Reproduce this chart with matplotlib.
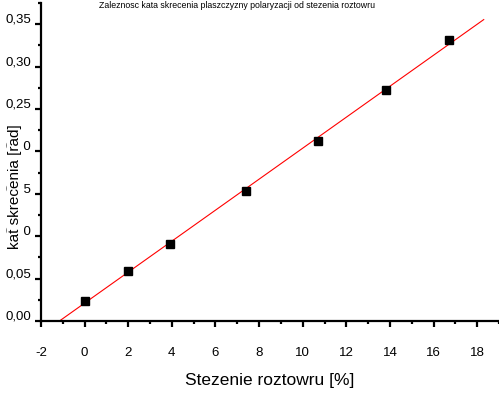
import numpy as np
import matplotlib
matplotlib.use('Agg')
import matplotlib.pyplot as plt
from matplotlib.ticker import MultipleLocator, FuncFormatter
from matplotlib.transforms import ScaledTranslation

# dane pomiarowe
stezenie = [0, 2, 3.9, 7.4, 10.7, 13.8, 16.7]          # [%]
kat = [0.0236, 0.0593, 0.0912, 0.1537, 0.2126, 0.272, 0.331]  # [rad]
x_ticks = [-2, 0, 2, 4, 6, 8, 10, 12, 14, 16, 18]
fit_end = 18.3

title = 'Zaleznosc kata skrecenia plaszczyzny polaryzacji od stezenia roztowru'
xlabel = 'Stezenie roztowru [%]'
ylabel = 'kat skrecenia [rad]'

plt.rcParams['font.family'] = ['Liberation Sans', 'DejaVu Sans']
plt.rcParams['axes.unicode_minus'] = False

fig = plt.figure(figsize=(4.99, 3.93), dpi=100)
ax = fig.add_axes([41 / 499, 72 / 393, 458 / 499, 318 / 393])

# dopasowanie liniowe
a, b = np.polyfit(stezenie, kat, 1)
fit_x = np.array([-b / a, fit_end])
ax.plot(fit_x, a * fit_x + b, color='red', lw=0.8, zorder=2)
ax.plot(stezenie, kat, 's', color='black', ms=5.2, zorder=3)

ax.set_xlim(-2, 19)
ax.set_ylim(0, 0.375)
ax.set_xticks(x_ticks)
ax.xaxis.set_minor_locator(MultipleLocator(1))
ax.yaxis.set_major_locator(MultipleLocator(0.05))
ax.yaxis.set_minor_locator(MultipleLocator(0.025))
ax.yaxis.set_major_formatter(FuncFormatter(lambda v, p: f'{v:.2f}'.replace('.', ',')))

for s in ['top', 'right']:
    ax.spines[s].set_visible(False)
for s in ['left', 'bottom']:
    ax.spines[s].set_linewidth(1.6)

ax.tick_params(axis='both', which='major', direction='out', length=4, width=1.6, labelsize=9.5)
ax.tick_params(axis='both', which='minor', direction='out', length=2.5, width=1.6)
ax.tick_params(axis='x', which='major', pad=15)
ax.tick_params(axis='y', which='major', pad=3)

# etykiety osi y troche wyzej, jak w oryginale
off = ScaledTranslation(0, 6 / 100, fig.dpi_scale_trans)
for lab in ax.get_yticklabels():
    lab.set_transform(lab.get_transform() + off)

fig.text(237 / 499, 1 - 5 / 393, title, fontsize=6.3, ha='center', va='center')
fig.text(270 / 499, 1 - 380 / 393, xlabel, fontsize=12.5, ha='center', va='center')
fig.text(15 / 499, 1 - 187 / 393, ylabel, fontsize=11, rotation=90,
         ha='center', va='center',
         bbox=dict(facecolor='white', edgecolor='none', pad=1))

plt.savefig('out.png', dpi=100)
plt.close()
